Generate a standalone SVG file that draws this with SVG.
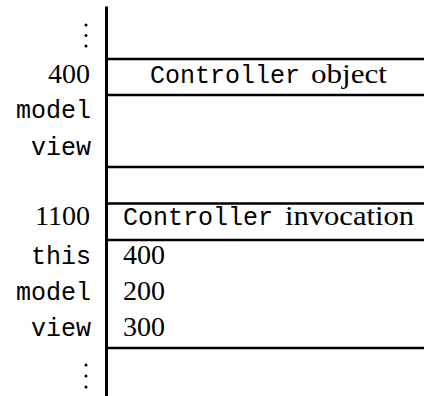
<svg xmlns="http://www.w3.org/2000/svg" width="424" height="396" viewBox="0 0 424 396">
  <style>
    .rule { stroke: #000; stroke-width: 2.6; fill: none; }
    .spine { stroke: #000; stroke-width: 3; fill: none; }
    .rm { font-family: "Liberation Serif", "Times New Roman", serif; font-size: 28px; fill: #000; }
    .tt { font-family: "Liberation Mono", "Courier New", monospace; font-size: 25px; fill: #000; }
    .lbl { text-anchor: end; }
    .dot { fill: #000; }
  </style>

  <!-- memory column: spine and cell boundaries -->
  <g id="connectors">
    <line class="spine" x1="106.5" y1="6.5" x2="106.5" y2="396"/>
    <line class="rule" x1="106.5" y1="59" x2="424" y2="59"/>
    <line class="rule" x1="106.5" y1="95" x2="424" y2="95"/>
    <line class="rule" x1="106.5" y1="167" x2="424" y2="167"/>
    <line class="rule" x1="106.5" y1="203.5" x2="424" y2="203.5"/>
    <line class="rule" x1="106.5" y1="240" x2="424" y2="240"/>
    <line class="rule" x1="106.5" y1="348" x2="424" y2="348"/>
  </g>

  <!-- ellipsis above -->
  <g id="ellipsis-top">
    <circle class="dot" cx="86" cy="25" r="1.5"/>
    <circle class="dot" cx="86" cy="35.5" r="1.5"/>
    <circle class="dot" cx="86" cy="46" r="1.5"/>
  </g>

  <!-- Controller object at 400 -->
  <g id="controller-object">
    <text class="rm lbl" x="90" y="83">400</text>
    <text class="tt lbl" x="91" y="118">model</text>
    <text class="tt lbl" x="91" y="155">view</text>
    <text class="tt" x="150" y="83">Controller</text>
    <text class="rm" x="311" y="83" textLength="76" lengthAdjust="spacingAndGlyphs">object</text>
  </g>

  <!-- Controller invocation frame at 1100 -->
  <g id="controller-invocation">
    <text class="rm lbl" x="90" y="225">1100</text>
    <text class="tt lbl" x="91" y="264">this</text>
    <text class="tt lbl" x="91" y="300">model</text>
    <text class="tt lbl" x="91" y="336">view</text>
    <text class="tt" x="123" y="225">Controller</text>
    <text class="rm" x="285" y="225" textLength="129" lengthAdjust="spacingAndGlyphs">invocation</text>
    <text class="rm" x="123" y="264">400</text>
    <text class="rm" x="123" y="300">200</text>
    <text class="rm" x="123" y="336">300</text>
  </g>

  <!-- ellipsis below -->
  <g id="ellipsis-bottom">
    <circle class="dot" cx="86" cy="365" r="1.5"/>
    <circle class="dot" cx="86" cy="376" r="1.5"/>
    <circle class="dot" cx="86" cy="387" r="1.5"/>
  </g>
</svg>
